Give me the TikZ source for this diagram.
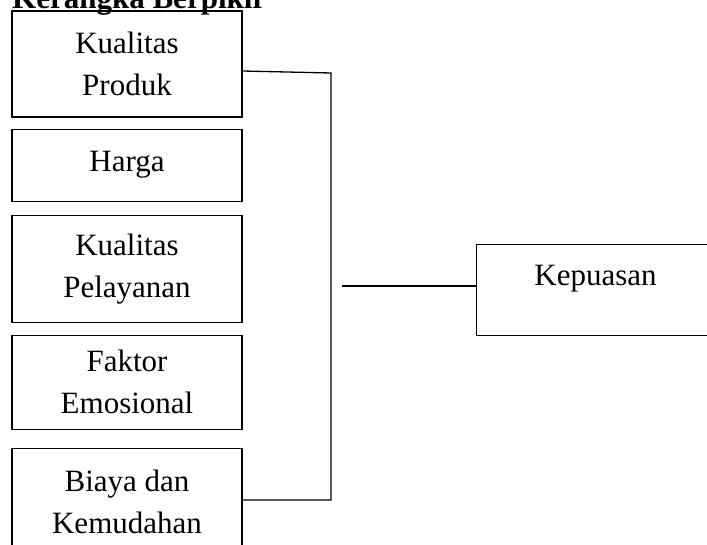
\documentclass[tikz,border=0pt]{standalone}
\usepackage{fontspec}
\setmainfont{Liberation Serif}
\usetikzlibrary{positioning}

\begin{document}
\begin{tikzpicture}[
  x=1pt, y=-1pt,
  node distance=12pt,
  box/.style={rectangle, draw, line width=1.1pt, minimum width=230pt, inner sep=0pt, align=center,
    font=\fontsize{31}{42}\selectfont},
  head/.style={inner sep=0pt, font=\fontsize{31}{36}\selectfont\bfseries},
  conn/.style={line width=1.3pt}
]
\useasboundingbox (0,0) rectangle (707,545);
\clip (0,0) rectangle (707,545);
% judul
\node[head, anchor=base west] (judul) at (12,9) {Kerangka Berpikir};
% variabel bebas
\node[box, minimum height=106pt] (produk) at (127,64) {Kualitas\\ Produk};
\node[box, minimum height=72pt, below=11pt of produk] (harga) {Harga};
\node[box, minimum height=107pt, below=13pt of harga] (layanan) {Kualitas\\ Pelayanan};
\node[box, minimum height=94pt, below=12pt of layanan] (emosi) {Faktor\\ Emosional};
\node[box, minimum height=106pt, below=18pt of emosi] (biaya) {Biaya dan\\ Kemudahan};
% variabel terikat
\node[box, minimum width=238pt, text height=41pt, text depth=50pt, anchor=north west] (puas) at (476,244) {Kepuasan};
% garis penghubung
\coordinate (jtop) at (331,73);
\coordinate (jbot) at (331,500);
\coordinate (jmid) at (342,286);
\draw[conn] ([yshift=-7pt]produk.east) -- (jtop) -- (jbot) -- (jbot -| biaya.east);
\draw[conn] (jmid) -- (jmid -| puas.west);
\end{tikzpicture}
\end{document}
